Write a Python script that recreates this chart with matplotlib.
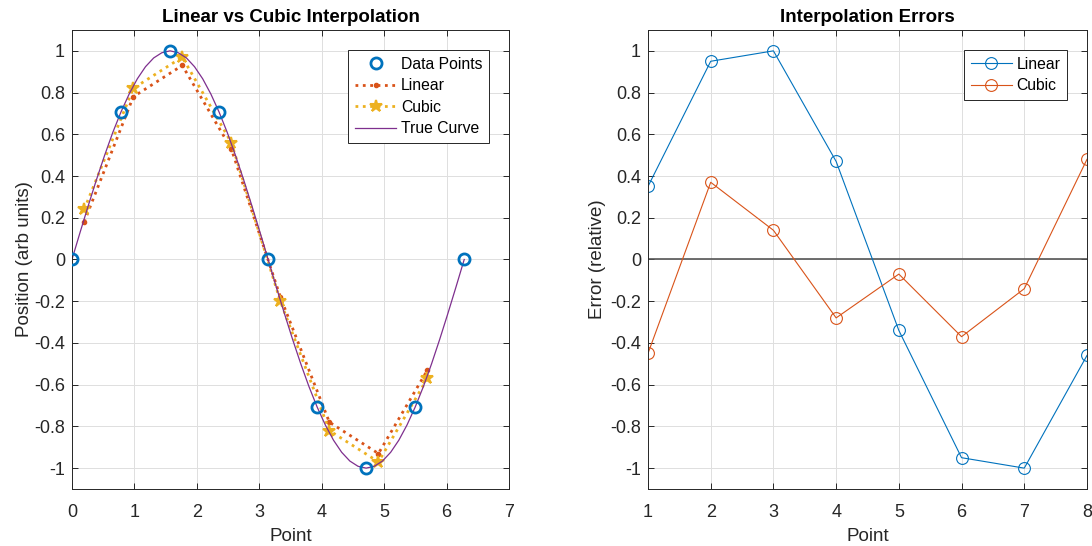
import matplotlib.pyplot as plt

plt.rcParams['font.family'] = ['Liberation Sans', 'DejaVu Sans']

# data points (x in radians)
data_x = [0, 0.785, 1.571, 2.356, 3.142, 3.927, 4.712, 5.498, 6.283]
data_y = [0, 0.707, 1.0, 0.707, 0, -0.707, -1.0, -0.707, 0]

# query points
query_x = [0.196, 0.982, 1.767, 2.553, 3.338, 4.123, 4.909, 5.694]
linear_y = [0.18, 0.78, 0.93, 0.53, -0.18, -0.78, -0.93, -0.53]
cubic_y = [0.24, 0.82, 0.97, 0.56, -0.20, -0.82, -0.97, -0.57]

# true curve samples
true_x = [0, 0.131, 0.262, 0.393, 0.524, 0.654, 0.785, 0.916, 1.047, 1.178,
          1.309, 1.440, 1.571, 1.702, 1.833, 1.963, 2.094, 2.225, 2.356, 2.487,
          2.618, 2.749, 2.880, 3.011, 3.142, 3.272, 3.403, 3.534, 3.665, 3.796,
          3.927, 4.058, 4.189, 4.320, 4.451, 4.581, 4.712, 4.843, 4.974, 5.105,
          5.236, 5.367, 5.498, 5.629, 5.760, 5.890, 6.021, 6.152, 6.283]
true_y = [0, 0.131, 0.259, 0.383, 0.5, 0.609, 0.707, 0.793, 0.866, 0.924,
          0.966, 0.991, 1.0, 0.991, 0.966, 0.924, 0.866, 0.793, 0.707, 0.609,
          0.5, 0.383, 0.259, 0.131, 0, -0.131, -0.259, -0.383, -0.5, -0.609,
          -0.707, -0.793, -0.866, -0.924, -0.966, -0.991, -1.0, -0.991, -0.966,
          -0.924, -0.866, -0.793, -0.707, -0.609, -0.5, -0.383, -0.259, -0.131, 0]

# errors
err_x = [1, 2, 3, 4, 5, 6, 7, 8]
err_linear = [0.35, 0.95, 1.0, 0.47, -0.34, -0.95, -1.0, -0.46]
err_cubic = [-0.45, 0.37, 0.14, -0.28, -0.07, -0.37, -0.14, 0.48]

yticks = [-1, -0.8, -0.6, -0.4, -0.2, 0, 0.2, 0.4, 0.6, 0.8, 1]
ytick_labels = ['-1', '-0.8', '-0.6', '-0.4', '-0.2', '0', '0.2', '0.4',
                '0.6', '0.8', '1']

blue = '#0072BD'
orange = '#D95319'
yellow = '#EDB120'
purple = '#7E2F8E'
axcol = '#262626'


def style_axes(ax):
    ax.grid(True, color='#DFDFDF', linewidth=0.7)
    ax.set_axisbelow(True)
    for s in ax.spines.values():
        s.set_color(axcol)
        s.set_linewidth(0.7)
    ax.tick_params(direction='in', top=True, right=True, colors=axcol,
                   labelsize=13, length=4, width=0.7)
    ax.tick_params(axis='x', pad=11)
    ax.tick_params(axis='y', pad=5)
    for lbl in ax.get_xticklabels() + ax.get_yticklabels():
        lbl.set_color(axcol)


def add_legend(ax):
    leg = ax.legend(loc='upper right', fontsize=11.3, fancybox=False,
                    framealpha=1, edgecolor=axcol, borderaxespad=1.25,
                    handlelength=2.6, handletextpad=0.3, labelspacing=0.42,
                    borderpad=0.45)
    leg.get_frame().set_linewidth(0.7)


fig = plt.figure(figsize=(10.92, 5.46), dpi=100)
ax1 = fig.add_axes([0.0659, 0.1044, 0.4002, 0.8407])
ax2 = fig.add_axes([0.5934, 0.1044, 0.4020, 0.8407])

# left panel
ax1.plot(data_x, data_y, 'o', color=blue, markersize=8, markeredgewidth=2,
         markerfacecolor='none', label='Data Points', zorder=5)
ax1.plot(query_x, linear_y, ':', color=orange, linewidth=2, marker='.',
         markersize=6, label='Linear')
ax1.plot(query_x, cubic_y, ':', color=yellow, linewidth=2, marker='*',
         markersize=9, markeredgewidth=1.5, label='Cubic')
ax1.plot(true_x, true_y, '-', color=purple, linewidth=0.9, label='True Curve')
ax1.set_xlim(0, 7)
ax1.set_ylim(-1.1, 1.1)
ax1.set_xticks(range(0, 8))
ax1.set_yticks(yticks)
ax1.set_yticklabels(ytick_labels)
ax1.set_xlabel('Point', fontsize=13.5, color=axcol, labelpad=5)
ax1.set_ylabel('Position (arb units)', fontsize=13.5, color=axcol, labelpad=1)
ax1.set_title('Linear vs Cubic Interpolation', fontsize=13.5, fontweight='bold',
              color='black', pad=6)
style_axes(ax1)
add_legend(ax1)

# right panel
ax2.axhline(0, color='#555555', linewidth=1.2)
ax2.plot(err_x, err_linear, '-o', color=blue, linewidth=0.8, markersize=8.5,
         markerfacecolor='none', markeredgewidth=0.8, label='Linear')
ax2.plot(err_x, err_cubic, '-o', color=orange, linewidth=0.8, markersize=8.5,
         markerfacecolor='none', markeredgewidth=0.8, label='Cubic')
ax2.set_xlim(1, 8)
ax2.set_ylim(-1.1, 1.1)
ax2.set_xticks(range(1, 9))
ax2.set_yticks(yticks)
ax2.set_yticklabels(ytick_labels)
ax2.set_xlabel('Point', fontsize=13.5, color=axcol, labelpad=5)
ax2.set_ylabel('Error (relative)', fontsize=13.5, color=axcol, labelpad=3)
ax2.set_title('Interpolation Errors', fontsize=13.5, fontweight='bold',
              color='black', pad=6)
style_axes(ax2)
add_legend(ax2)

fig.savefig('out.png', dpi=100)
